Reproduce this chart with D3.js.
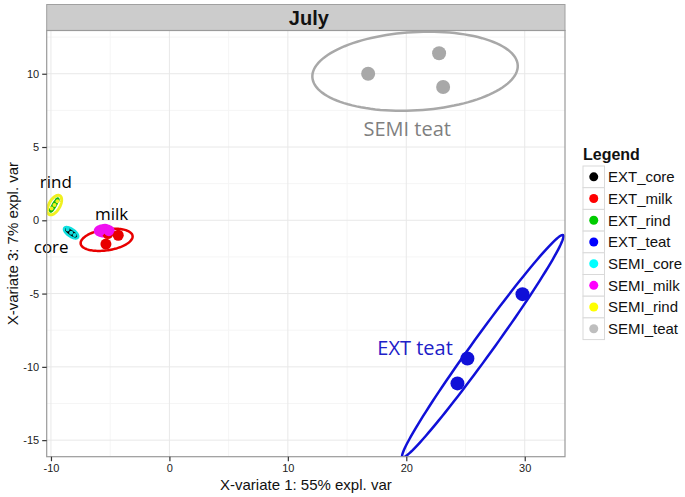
<!DOCTYPE html>
<html><head><meta charset="utf-8">
<script src="https://cdn.jsdelivr.net/npm/d3@7"></script>
<style>body{margin:0;background:#fff}svg{display:block}</style>
</head><body>
<svg id="c" width="685" height="497"></svg>
<script>
// ---- data ----
const groups = ["EXT_core","EXT_milk","EXT_rind","EXT_teat","SEMI_core","SEMI_milk","SEMI_rind","SEMI_teat"];
const groupColors = ["#000000","#ff0000","#00cc00","#0000ff","#00ffff","#ff00ff","#ffff00","#bebebe"];
const markColors = ["#000000","#e80000","#10b810","#1010d8","#10e0e0","#f010f0","#f0f020","#a8a8a8"];
const pointRadius = [2, 5.5, 2.2, 7, 2, 5, 2, 7];
// points: [group index, x-variate 1, x-variate 3]
const points = [
  [0,-8.57,-0.68],[0,-8.31,-0.82],[0,-8.06,-0.95],
  [1,-4.32,-1.02],[1,-5.36,-1.62],[1,-5.2,-0.9],
  [2,-9.98,0.72],[2,-9.72,1.05],[2,-9.45,1.38],
  [3,29.81,-5.04],[3,25.16,-9.43],[3,24.32,-11.13],
  [4,-8.6,-0.62],[4,-8.3,-0.85],[4,-8.0,-1.0],
  [5,-5.86,-0.75],[5,-5.44,-0.58],[5,-5.11,-0.75],
  [6,-9.95,0.8],[6,-9.7,1.05],[6,-9.45,1.3],
  [7,16.78,10.0],[7,22.77,11.40],[7,23.11,9.09]
];
// ellipses: [group index, cx, cy, ux, uy, vx, vy] (conjugate half-axes, data units)
const ellipses = [
  [7, 20.74, 10.17, 8.67, 0.41, 0.193, -2.667],
  [3, 26.46, -8.59, 6.78, 7.58, 0.684, -0.399],
  [1, -5.30, -1.33, 2.19, 0.27, 0.135, -0.709],
  [5, -5.50, -0.72, 0.74, 0.0, 0.0, -0.34],
  [4, -8.30, -0.85, 0.553, -0.313, -0.169, -0.196],
  [0, -8.30, -0.85, 0.40, -0.23, -0.06, -0.07],
  [6, -9.70, 1.04, 0.45, 0.64, 0.40, -0.19],
  [2, -9.72, 1.04, 0.31, 0.44, 0.10, -0.05]
];
const labels = [
  ["rind", -9.59, 2.61, "#000000", 17],
  ["milk", -4.88, 0.46, "#000000", 17],
  ["core", -9.98, -1.82, "#000000", 17],
  ["SEMI teat", 20.08, 6.2, "#7f7f7f", 20],
  ["EXT teat", 20.74, -8.73, "#2020c8", 20]
];
const xTicks = [-10, 0, 10, 20, 30];
const yTicks = [-15, -10, -5, 0, 5, 10];
const xMinor = [-5, 5, 15, 25];
const yMinor = [-12.5, -7.5, -2.5, 2.5, 7.5, 12.5];
const title = "July";
const xTitle = "X-variate 1: 55% expl. var";
const yTitle = "X-variate 3: 7% expl. var";
const legendTitle = "Legend";

// ---- layout ----
const P = {l: 46.7, r: 565, t: 30.5, b: 456.7};
const x = d3.scaleLinear().domain([-10.36, 33.4]).range([P.l, P.r]);
const y = d3.scaleLinear().domain([-16.13, 12.95]).range([P.b, P.t]);
const svg = d3.select("#c");
const font = "'Liberation Sans', Arial, sans-serif";

svg.append("defs").append("clipPath").attr("id","clip")
  .append("rect").attr("x",P.l).attr("y",P.t).attr("width",P.r-P.l).attr("height",P.b-P.t);

// strip
svg.append("rect").attr("x",P.l).attr("y",4.5).attr("width",P.r-P.l).attr("height",P.t-4.5)
  .attr("fill","#cccccc").attr("stroke","#a0a0a0").attr("stroke-width",1);
svg.append("text").attr("x",(P.l+P.r)/2+3).attr("y",24.5).attr("text-anchor","middle")
  .attr("font-family",font).attr("font-weight","bold").attr("font-size",20).attr("fill","#111").text(title);

// panel
svg.append("rect").attr("x",P.l).attr("y",P.t).attr("width",P.r-P.l).attr("height",P.b-P.t).attr("fill","#fff");
const g = svg.append("g");
g.selectAll(".xm").data(xMinor).join("line").attr("x1",d=>x(d)).attr("x2",d=>x(d)).attr("y1",P.t).attr("y2",P.b)
  .attr("stroke","#f5f5f5").attr("stroke-width",1);
g.selectAll(".ym").data(yMinor.filter(d=>y(d)>P.t)).join("line").attr("y1",d=>y(d)).attr("y2",d=>y(d)).attr("x1",P.l).attr("x2",P.r)
  .attr("stroke","#f5f5f5").attr("stroke-width",1);
g.selectAll(".xg").data(xTicks).join("line").attr("x1",d=>x(d)).attr("x2",d=>x(d)).attr("y1",P.t).attr("y2",P.b)
  .attr("stroke","#e8e8e8").attr("stroke-width",1);
g.selectAll(".yg").data(yTicks).join("line").attr("y1",d=>y(d)).attr("y2",d=>y(d)).attr("x1",P.l).attr("x2",P.r)
  .attr("stroke","#e8e8e8").attr("stroke-width",1);

// ellipses
const plot = svg.append("g").attr("clip-path","url(#clip)");
const ts = d3.range(0, 120).map(i => i/120*2*Math.PI);
const eLine = d3.line().curve(d3.curveLinearClosed);
const eWidth = [2.5, 2.5, 2.5, 2.5, 3, 3.5, 3, 2.5];
plot.selectAll(".ell").data(ellipses).join("path")
  .attr("d", e => eLine(ts.map(t => [x(e[1] + e[3]*Math.cos(t) + e[5]*Math.sin(t)), y(e[2] + e[4]*Math.cos(t) + e[6]*Math.sin(t))])))
  .attr("fill","none").attr("stroke", e => markColors[e[0]])
  .attr("stroke-width", e => eWidth[e[0]]);

// points
plot.selectAll(".pt").data(points).join("circle")
  .attr("cx", d => x(d[1])).attr("cy", d => y(d[2])).attr("r", d => pointRadius[d[0]])
  .attr("fill", d => markColors[d[0]]);

// labels
svg.selectAll(".lab").data(labels).join("text")
  .attr("x", d => x(d[1])).attr("y", d => y(d[2])).attr("dy","0.35em").attr("text-anchor","middle")
  .attr("font-family","'Open Sans', sans-serif").attr("font-size", d => d[4]).attr("fill", d => d[3]).text(d => d[0]);

// panel border
svg.append("rect").attr("x",P.l).attr("y",P.t).attr("width",P.r-P.l).attr("height",P.b-P.t)
  .attr("fill","none").attr("stroke","#9a9a9a").attr("stroke-width",1.2);

// axes
const xa = svg.append("g").attr("transform",`translate(0,${P.b})`)
  .call(d3.axisBottom(x).tickValues(xTicks).tickSize(4.5).tickPadding(3).tickFormat(d3.format("d")));
const ya = svg.append("g").attr("transform",`translate(${P.l},0)`)
  .call(d3.axisLeft(y).tickValues(yTicks).tickSize(4.5).tickPadding(3).tickFormat(d3.format("d")));
[xa, ya].forEach(a => {
  a.select(".domain").remove();
  a.selectAll("line").attr("stroke","#333").attr("stroke-width",1.2);
  a.selectAll("text").attr("font-family",font).attr("font-size",11).attr("fill","#222");
});
ya.selectAll("text").text(d => d < 0 ? "-" + Math.abs(d) : d);
xa.selectAll("text").text(d => d < 0 ? "-" + Math.abs(d) : d);

svg.append("text").attr("x",(P.l+P.r)/2).attr("y",490).attr("text-anchor","middle")
  .attr("font-family",font).attr("font-size",15).attr("fill","#111").text(xTitle);
svg.append("text").attr("transform",`translate(18,${(P.t+P.b)/2}) rotate(-90)`).attr("text-anchor","middle")
  .attr("font-family",font).attr("font-size",15).attr("fill","#111").text(yTitle);

// legend
const L = {x: 583, y: 166, w: 21.5, h: 21.7};
svg.append("text").attr("x",L.x).attr("y",160).attr("font-family",font).attr("font-weight","bold")
  .attr("font-size",16).attr("fill","#111").text(legendTitle);
const lg = svg.selectAll(".lg").data(groups).join("g")
  .attr("transform",(d,i)=>`translate(${L.x},${L.y + i*L.h})`);
lg.append("rect").attr("width",L.w).attr("height",L.h).attr("fill","#fff").attr("stroke","#d9d9d9").attr("stroke-width",1);
lg.append("circle").attr("cx",L.w/2).attr("cy",L.h/2).attr("r",4.5).attr("fill",(d,i)=>groupColors[i]);
lg.append("text").attr("x",L.w+3.5).attr("y",L.h/2).attr("dy","0.36em").attr("font-family",font)
  .attr("font-size",15).attr("fill","#111").text(d=>d);
</script>
</body></html>
